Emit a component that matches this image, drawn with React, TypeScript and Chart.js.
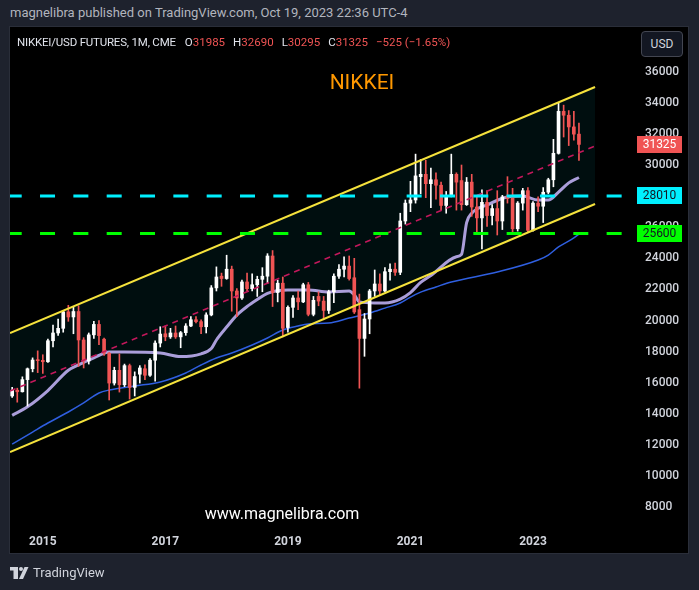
import React, { useEffect, useRef } from "react";
import { Chart, registerables } from "chart.js";
Chart.register(...registerables);

// Monthly candles, first one = Jul 2014 (x = months since Jan 2015)
const firstMonthOffset = -6;
const opens = [
  15150, 15520, 15420, 16200, 16900, 17460,
  17440, 17350, 18700, 19200, 19500, 20560, 20230, 20580, 18750, 17400, 19080, 19750,
  18800, 17900, 15980, 16800, 15870, 17100, 15700, 16550, 16900, 16480, 17450, 18550,
  19150, 18950, 19200, 18950, 19220, 19650, 20050, 19930, 19600, 20360, 22100, 22850,
  22700, 23300, 21900, 21450, 22480, 22050, 22300, 22650, 22850, 24150, 21800, 22400,
  19550, 20850, 21450, 21200, 22300, 20400, 21550, 21250, 20650, 21850, 22850, 23300,
  23500, 22750, 20700, 18850, 20100, 21900, 22350, 21900, 23140, 23300, 23100, 26400,
  27550, 27750, 29250, 29400, 28800, 29050, 28700, 27400, 28000, 29400, 29000, 27450,
  28900, 27300, 26600, 27600, 26750, 27200, 26400, 28000, 27900, 25900, 27550, 28350,
  25800, 27550, 27350, 28250, 29050, 30750, 33450, 33200, 32450, 31985,
];
const highs = [
  15700, 15650, 16380, 16950, 17600, 18050,
  17800, 18800, 19700, 20100, 20650, 20980, 20850, 20950, 18900, 19200, 19950, 20000,
  18870, 17950, 17000, 17850, 17200, 17200, 16700, 17100, 17150, 17550, 18700, 19600,
  19650, 19500, 19650, 19300, 19800, 20250, 20250, 20050, 20500, 22250, 23450, 23050,
  24200, 23500, 22050, 22600, 23050, 23000, 22850, 23400, 24300, 24500, 22600, 22800,
  20950, 21600, 21900, 22400, 22450, 21550, 21850, 21550, 21950, 23000, 23600, 24100,
  24150, 24000, 21700, 20450, 22000, 23250, 23000, 23400, 23650, 23700, 26900, 27750,
  28950, 30700, 30350, 30300, 29800, 29500, 28900, 28300, 30700, 29500, 30000, 29200,
  29400, 28000, 28400, 28350, 27450, 28350, 28050, 29250, 28500, 27650, 28500, 28550,
  27650, 27950, 28550, 29150, 31650, 34000, 33850, 33500, 33450, 32690,
];
const lows = [
  15050, 14750, 15400, 14500, 16700, 16650,
  16600, 17300, 18300, 19050, 19250, 19950, 19150, 17050, 16950, 17200, 18850, 18450,
  17750, 14890, 15850, 15400, 15750, 14950, 15150, 15980, 16200, 16400, 16100, 18300,
  18700, 18850, 18850, 18250, 19050, 19600, 19850, 19150, 19200, 20300, 21900, 22200,
  22650, 20600, 20250, 21350, 21900, 21900, 21550, 21850, 22400, 20900, 21200, 18950,
  19250, 20200, 20700, 21150, 20300, 20300, 20950, 20050, 20450, 21150, 22700, 22800,
  22600, 20450, 15650, 17700, 19150, 21550, 21600, 21850, 22600, 22900, 22950, 26200,
  27000, 27550, 28150, 27900, 27250, 27800, 27100, 26900, 27950, 27100, 27100, 27400,
  26700, 25700, 24600, 26050, 26150, 25500, 25850, 27550, 25700, 25750, 27100, 25700,
  25750, 27000, 26300, 28150, 28600, 30700, 31800, 31250, 31600, 30295,
];
const closes = [
  15520, 15420, 16200, 16900, 17460, 17420,
  17350, 18700, 19200, 19500, 20560, 20230, 20580, 18750, 17400, 19080, 19750, 19030,
  17900, 15980, 16800, 15870, 17100, 15700, 16400, 16950, 16480, 17450, 18550, 19130,
  18950, 19200, 18950, 19220, 19650, 20050, 19930, 19600, 20360, 22100, 22800, 22700,
  23300, 21900, 21450, 22480, 22050, 22300, 22650, 22850, 24150, 21800, 22400, 19500,
  20850, 21450, 21200, 22300, 20400, 21300, 21250, 20650, 21850, 22850, 23300, 23500,
  22700, 20550, 18850, 20100, 21900, 22350, 21900, 23140, 23300, 23100, 26400, 27550,
  27750, 29300, 29400, 28800, 29050, 28700, 27400, 28000, 29400, 28900, 27450, 28900,
  27300, 26600, 27600, 26750, 27200, 26400, 27950, 27850, 25900, 27550, 28350, 25800,
  27550, 27350, 28250, 29050, 30750, 33450, 33200, 32450, 31985, 31325,
];

// Moving averages (month index, price)
const purpleMonths = [-6, -3, 1, 5, 7, 10, 13, 16, 23, 27, 31, 33, 34, 36, 38, 40, 42, 44, 48, 52, 56, 60, 61, 62, 65, 67, 70, 72, 74, 76, 81, 82, 83, 84, 87, 91, 94, 97, 99, 101, 103, 105];
const purpleValues = [13900, 14450, 15500, 16800, 17150, 17600, 17980, 17980, 17910, 17680, 17860, 18200, 18750, 19580, 20350, 20900, 21350, 21750, 21960, 21960, 21840, 21900, 21650, 21200, 21130, 21130, 21380, 21800, 22450, 22900, 24100, 24250, 26300, 26900, 27430, 27950, 28000, 27750, 27750, 28260, 28850, 29200];
const blueMonths = [-6, -2, 1, 5, 8, 11, 13, 18, 23, 28, 31, 34, 37, 41, 44, 47, 50, 52, 56, 60, 64, 67, 70, 72, 74, 77, 80, 89, 97, 99, 101, 104, 105];
const blueValues = [12050, 12830, 13410, 14120, 14700, 15340, 15530, 15790, 16050, 16630, 17140, 17590, 17910, 18430, 18880, 19390, 19650, 19780, 19840, 20160, 20480, 20800, 21130, 21510, 21830, 22160, 22480, 23120, 23890, 24210, 24730, 25310, 25560];

// Channel (month index, price)
const channelMonths = [-6.42, 108.15];
const channelUpper = [19198, 35016];
const channelLower = [11546, 27493];
const channelMiddle = [15468, 31222];

// Horizontal levels
const cyanLevel = 28010;
const greenLevel = 25600;

const yearTicks = [0, 24, 48, 72, 96];
const yearLabels = ["2015", "2017", "2019", "2021", "2023"];
const priceTicks = [8000, 10000, 12000, 14000, 16000, 18000, 20000, 22000, 24000, 26000, 28000, 30000, 32000, 34000, 36000];

const FONT = "Roboto, 'Noto Sans', sans-serif";
const UP = "#ffffff";
const DOWN = "#f05454";
const X_MIN = -6.424;
const X_MAX = 115.78;

export default function App() {
  const ref = useRef<HTMLCanvasElement>(null);

  useEffect(() => {
    const canvas = ref.current;
    if (!canvas) return;
    const xs = opens.map((_, i) => i + firstMonthOffset);
    const colors = opens.map((o, i) => (closes[i] >= o ? UP : DOWN));
    const bodies = xs.map((x, i) => ({ x, y: [opens[i], closes[i]] }));
    const wicks = xs.map((x, i) => ({ x, y: [lows[i], highs[i]] }));
    const pts = (xa: number[], ya: number[]) => xa.map((x, i) => ({ x, y: ya[i] }));
    const lastClose = closes[closes.length - 1];

    const labelsPlugin = {
      id: "priceLabels",
      afterDraw(chart: any) {
        const c = chart.ctx;
        const ys = chart.scales.y;
        const items = [
          { v: lastClose, bg: "#f05454", fg: "#ffffff" },
          { v: cyanLevel, bg: "#00f0ff", fg: "#131722" },
          { v: greenLevel, bg: "#00ff00", fg: "#131722" },
        ];
        c.save();
        items.forEach((it) => {
          const y = ys.getPixelForValue(it.v);
          c.fillStyle = it.bg;
          c.fillRect(637, Math.round(y - 8.5), 45, 17);
          c.fillStyle = it.fg;
          c.font = `12px ${FONT}`;
          c.textAlign = "center";
          c.textBaseline = "middle";
          c.fillText(String(it.v), 659.5, y + 0.5);
        });
        c.restore();
      },
    };

    const chart = new Chart(canvas, {
      type: "bar",
      data: {
        datasets: [
          {
            type: "line",
            data: pts(channelMonths, channelUpper),
            borderWidth: 0,
            pointRadius: 0,
            fill: false,
            order: 20,
          } as any,
          {
            type: "line",
            data: pts(channelMonths, channelLower),
            borderWidth: 0,
            pointRadius: 0,
            fill: "-1",
            backgroundColor: "rgba(0,128,135,0.11)",
            order: 20,
          } as any,
          {
            type: "line",
            data: pts(purpleMonths, purpleValues),
            borderColor: "rgba(185,170,235,0.92)",
            borderWidth: 3,
            pointRadius: 0,
            cubicInterpolationMode: "monotone",
            order: 9,
          } as any,
          {
            type: "line",
            data: pts(blueMonths, blueValues),
            borderColor: "#2f5fe0",
            borderWidth: 1.5,
            pointRadius: 0,
            cubicInterpolationMode: "monotone",
            order: 9,
          } as any,
          {
            type: "bar",
            data: wicks,
            backgroundColor: colors,
            barThickness: 1,
            grouped: false,
            order: 7,
          } as any,
          {
            type: "bar",
            data: bodies,
            backgroundColor: colors,
            barThickness: 3,
            minBarLength: 1,
            grouped: false,
            order: 6,
          } as any,
          {
            type: "line",
            data: pts(channelMonths, channelMiddle),
            borderColor: "#c2185b",
            borderWidth: 1.5,
            borderDash: [6, 5],
            pointRadius: 0,
            order: 4,
          } as any,
          {
            type: "line",
            data: pts(channelMonths, channelUpper),
            borderColor: "#f5e23c",
            borderWidth: 2,
            pointRadius: 0,
            order: 3,
          } as any,
          {
            type: "line",
            data: pts(channelMonths, channelLower),
            borderColor: "#f5e23c",
            borderWidth: 2,
            pointRadius: 0,
            order: 3,
          } as any,
          {
            type: "line",
            data: [{ x: X_MIN, y: cyanLevel }, { x: X_MAX, y: cyanLevel }],
            borderColor: "#00f0ff",
            borderWidth: 3,
            borderDash: [15, 18.33],
            borderDashOffset: 3.3,
            pointRadius: 0,
            order: 1,
          } as any,
          {
            type: "line",
            data: [{ x: X_MIN, y: greenLevel }, { x: X_MAX, y: greenLevel }],
            borderColor: "#00ff00",
            borderWidth: 3,
            borderDash: [15, 18.33],
            borderDashOffset: 3.3,
            pointRadius: 0,
            order: 1,
          } as any,
        ],
      },
      options: {
        animation: false,
        responsive: false,
        devicePixelRatio: 1,
        layout: { padding: { left: 10, top: 28, right: 11, bottom: 37 } },
        plugins: { legend: { display: false }, tooltip: { enabled: false } },
        scales: {
          x: {
            type: "linear",
            min: X_MIN,
            max: X_MAX,
            offset: false,
            grid: { display: false, drawTicks: false },
            border: { display: false },
            ticks: {
              color: "#d1d4dc",
              font: { size: 12, weight: "bold", family: FONT },
              padding: 7,
              maxRotation: 0,
              autoSkip: false,
              callback: (v: any) => {
                const k = yearTicks.indexOf(Number(v));
                return k >= 0 ? yearLabels[k] : "";
              },
            },
            afterBuildTicks: (s: any) => {
              s.ticks = yearTicks.map((v) => ({ value: v }));
            },
            afterFit: (s: any) => {
              s.height = 25;
            },
          },
          y: {
            type: "linear",
            position: "right",
            min: 6660,
            max: 38810,
            grid: { display: false, drawTicks: false },
            border: { display: false },
            ticks: {
              color: "#d1d4dc",
              font: { size: 12, weight: "500", family: FONT },
              padding: 11,
              callback: (v: any) => String(v),
            },
            afterBuildTicks: (s: any) => {
              s.ticks = priceTicks.map((v) => ({ value: v }));
            },
            afterFit: (s: any) => {
              s.width = 54;
            },
          },
        },
      } as any,
      plugins: [labelsPlugin],
    });
    return () => chart.destroy();
  }, []);

  const red = "#f05454";
  const lg = "#d1d4dc";
  return (
    <div
      style={{
        position: "absolute",
        left: 0,
        top: 0,
        width: 699,
        height: 590,
        background: "#1e222d",
        fontFamily: FONT,
        overflow: "hidden",
      }}
    >
      <div
        style={{
          position: "absolute",
          left: 10,
          top: 5,
          fontSize: 13,
          color: "#b2b5be",
          whiteSpace: "nowrap",
        }}
      >
        magnelibra published on TradingView.com, Oct 19, 2023 22:36 UTC-4
      </div>
      <div
        style={{
          position: "absolute",
          left: 9,
          top: 26,
          width: 678,
          height: 526,
          background: "#000000",
          border: "1px solid #2a2e39",
        }}
      />
      <canvas
        ref={ref}
        width={699}
        height={590}
        style={{ position: "absolute", left: 0, top: 0, width: 699, height: 590 }}
      />
      <div
        style={{
          position: "absolute",
          left: 17,
          top: 35,
          fontSize: 11.5,
          color: "#e0e3eb",
          whiteSpace: "nowrap",
        }}
      >
        <span style={{ letterSpacing: -0.2 }}>NIKKEI/USD FUTURES, 1M, CME</span>
        <span style={{ marginLeft: 9 }}>O</span>
        <span style={{ color: red }}>31985</span>
        <span style={{ marginLeft: 8 }}>H</span>
        <span style={{ color: red }}>32690</span>
        <span style={{ marginLeft: 8 }}>L</span>
        <span style={{ color: red }}>30295</span>
        <span style={{ marginLeft: 8 }}>C</span>
        <span style={{ color: red }}>31325</span>
        <span style={{ marginLeft: 8, color: red }}>−525 (−1.65%)</span>
      </div>
      <div
        style={{
          position: "absolute",
          left: 262,
          width: 200,
          top: 70,
          textAlign: "center",
          fontSize: 21,
          color: "#ff9800",
        }}
      >
        NIKKEI
      </div>
      <div
        style={{
          position: "absolute",
          left: 641,
          top: 31,
          width: 40,
          height: 24,
          border: "1px solid #434651",
          borderRadius: 4,
          background: "#131722",
          color: lg,
          fontSize: 12,
          lineHeight: "24px",
          textAlign: "center",
        }}
      >
        USD
      </div>
      <div
        style={{
          position: "absolute",
          left: 182,
          width: 200,
          top: 504,
          textAlign: "center",
          fontSize: 16,
          color: "#ffffff",
        }}
      >
        www.magnelibra.com
      </div>
      <svg
        style={{ position: "absolute", left: 10, top: 567 }}
        width={19}
        height={12}
        viewBox="0 0 19 12"
      >
        <rect x={0} y={0} width={8} height={3.5} fill={lg} />
        <rect x={3.5} y={0} width={4.5} height={12} fill={lg} />
        <circle cx={11} cy={2} r={2} fill={lg} />
        <polygon points="9,12 13,12 18.5,0 14.5,0" fill={lg} />
      </svg>
      <div
        style={{
          position: "absolute",
          left: 33,
          top: 565,
          fontSize: 13,
          color: lg,
          whiteSpace: "nowrap",
        }}
      >
        TradingView
      </div>
    </div>
  );
}
